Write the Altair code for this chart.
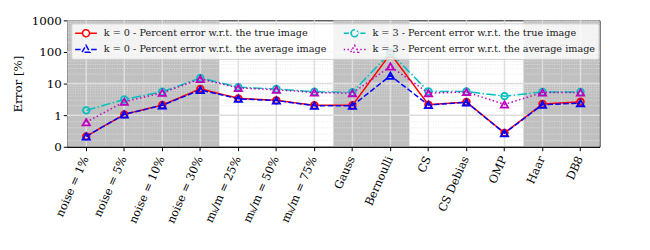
import altair as alt
import pandas as pd

categories = ["noise = 1%", "noise = 5%", "noise = 10%", "noise = 30%",
              "m\u2096/m = 25%", "m\u2096/m = 50%", "m\u2096/m = 75%",
              "Gauss", "Bernoulli", "CS", "CS Debias", "OMP", "Haar", "DB8"]
shaded = ["noise = 1%", "noise = 5%", "noise = 10%", "noise = 30%",
          "Gauss", "Bernoulli", "Haar", "DB8"]

k0_true = [0.33, 1.06, 2.1, 6.8, 3.4, 2.95, 2.05, 2.05, 88, 2.15, 2.6, 0.44, 2.25, 2.65]
k0_avg = [0.33, 1.06, 2.05, 6.3, 3.3, 2.9, 2.0, 2.0, 17.8, 2.1, 2.55, 0.43, 2.15, 2.4]
k3_true = [1.42, 3.15, 5.5, 15.1, 7.7, 6.7, 5.5, 5.3, 96, 5.6, 5.6, 4.0, 5.4, 5.4]
k3_avg = [0.78, 2.66, 5.1, 14.1, 7.3, 6.4, 5.2, 5.0, 35, 5.0, 5.4, 2.2, 5.2, 5.2]

s_k0t = "k = 0 - Percent error w.r.t. the true image"
s_k0a = "k = 0 - Percent error w.r.t. the average image"
s_k3t = "k = 3 - Percent error w.r.t. the true image"
s_k3a = "k = 3 - Percent error w.r.t. the average image"

major_ticks = [1, 10, 100]
minor_ticks = [0.2, 0.4, 0.6, 0.8,
               2, 3, 4, 5, 6, 7, 8, 9,
               20, 30, 40, 50, 60, 70, 80, 90,
               200, 300, 400, 500, 600, 700, 800, 900]

# legend order (filled column by column, 2 columns)
order = [s_k0t, s_k0a, s_k3t, s_k3a]
colors = ["#ff0000", "#0000ff", "#00bfbf", "#bf00bf"]
dashes = [[1, 0], [5.6, 2.4], [9.6, 2.4, 1.5, 2.4], [1.5, 2.5]]
circ = "M0.36,0A0.64,0.64 0 1,0 1.64,0A0.64,0.64 0 1,0 0.36,0Z"
tri = "M1,-0.78L1.72,0.5L0.28,0.5Z"
legend_paths = [
    "M-1,0H0.36M1.64,0H3" + circ,
    "M-1,0H0.05M1.95,0H3" + tri,
    "M-1,0H-0.05M0.18,0H0.3M1.7,0H1.82M2.05,0H3" + circ,
    "M-1,0H-0.75M-0.3,0H-0.05M0.4,0H0.55M1.45,0H1.6M2.05,0H2.3M2.75,0H3" + tri,
]

rows = []
for name, vals in [(s_k0t, k0_true), (s_k0a, k0_avg), (s_k3t, k3_true), (s_k3a, k3_avg)]:
    for c, v in zip(categories, vals):
        rows.append({"cat": c, "value": v, "series": name})
df = pd.DataFrame(rows)

symlog = "datum.value <= 1 ? datum.value : 1 + log(datum.value) / LN10"

xscale = alt.Scale(type="band", domain=categories, paddingInner=0, paddingOuter=0)
yscale = alt.Scale(type="linear", domain=[0, 4], nice=False, zero=False)
cscale = alt.Scale(domain=order, range=colors)
dscale = alt.Scale(domain=order, range=dashes)

xaxis = alt.Axis(title=None, labelAngle=294, labelAlign="right", labelBaseline="middle",
                 labelPadding=6, labelFont="DejaVu Serif", labelFontSize=11.5,
                 labelColor="black", tickColor="black", domainColor="black",
                 tickSize=4, grid=False, labelLimit=0)
yaxis = alt.Axis(title="Error [%]", values=[0, 1, 2, 3, 4],
                 labelExpr="datum.value == 0 ? '0' : format(pow(10, datum.value - 1), 'd')",
                 labelFont="DejaVu Serif", labelFontSize=12, labelColor="black",
                 titleFont="DejaVu Serif", titleFontSize=12, titleFontWeight="normal",
                 titleColor="black", titlePadding=7,
                 tickColor="black", domainColor="black", tickSize=4, grid=False)
legend = alt.Legend(title=None, orient="none", legendX=4, legendY=3,
                    columns=2, columnPadding=14, rowPadding=2,
                    labelFont="DejaVu Serif", labelFontSize=9.8,
                    labelColor="#1a1a1a", labelLimit=0,
                    symbolSize=121, symbolStrokeWidth=1.5,
                    fillColor="rgba(255,255,255,0.8)",
                    strokeColor="#cccccc", padding=3, cornerRadius=2,
                    labelOffset=17)

X = lambda: alt.X("cat:N", scale=xscale, axis=xaxis, sort=categories, bandPosition=0.5)
Y = lambda f: alt.Y(f, scale=yscale, axis=yaxis)
C = lambda: alt.Color("series:N", scale=cscale, legend=legend)

base = alt.Chart(df)

bands = alt.Chart(pd.DataFrame({"cat": shaded})).mark_rect(color="#c0c0c0").encode(
    x=alt.X("cat:N", scale=xscale, axis=xaxis, sort=categories),
    y=alt.datum(0, scale=yscale, axis=yaxis),
    y2=alt.datum(4),
)

minor = alt.Chart(pd.DataFrame({"value": minor_ticks})).transform_calculate(
    yt=symlog).mark_rule(color="#e4e4e4", strokeWidth=0.8, strokeDash=[1, 1.5]).encode(
    y=Y("yt:Q"))

hmajor = alt.Chart(pd.DataFrame({"value": major_ticks})).transform_calculate(
    yt=symlog).mark_rule(color="#dedede", strokeWidth=1.5).encode(
    y=Y("yt:Q"))

vmajor = alt.Chart(pd.DataFrame({"cat": categories})).mark_rule(
    color="#dedede", strokeWidth=1.5).encode(
    x=X(),
    y=alt.datum(0, scale=yscale, axis=yaxis),
    y2=alt.datum(4),
)

def series_layers(name, shape, size):
    sub = base.transform_filter(alt.datum.series == name).transform_calculate(yt=symlog)
    line = sub.mark_line(strokeWidth=1.5).encode(
        x=X(), y=Y("yt:Q"), color=C(),
        strokeDash=alt.StrokeDash("series:N", scale=dscale, legend=None),
    )
    pts = sub.mark_point(shape=shape, size=size, filled=False, strokeWidth=1.8, opacity=1).encode(
        x=X(), y=Y("yt:Q"), color=C(),
    )
    return [line, pts]

layers = [bands, minor, hmajor, vmajor]
layers += series_layers(s_k0t, "circle", 45)
layers += series_layers(s_k0a, "triangle-up", 55)
layers += series_layers(s_k3t, "circle", 45)
layers += series_layers(s_k3a, "triangle-up", 55)

legend_layer = base.transform_filter("false").mark_point(filled=False, strokeWidth=1.5, opacity=1).encode(
    color=C(),
    shape=alt.Shape("series:N", scale=alt.Scale(domain=order, range=legend_paths), legend=legend),
)
layers.append(legend_layer)

chart = alt.layer(*layers).properties(
    width=539, height=128,
    autosize=alt.AutoSizeParams(type="none"),
    padding={"left": 60, "top": 11, "right": 43, "bottom": 103},
).configure_view(stroke="black", strokeWidth=1)

chart.save("out.html", embed_options={"renderer": "svg", "actions": False})
